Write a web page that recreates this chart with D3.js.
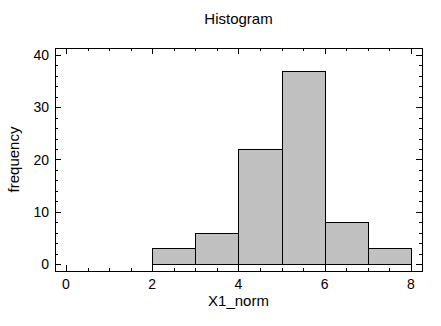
<!DOCTYPE html>
<html>
<head>
<meta charset="utf-8">
<script src="https://cdn.jsdelivr.net/npm/d3@7"></script>
<style>
body { margin: 0; background: #fff; }
text { font-family: "Liberation Sans", Arial, sans-serif; fill: #000; }
</style>
</head>
<body>
<div id="chart"></div>
<script>
// bin edges and counts
var binStarts = [0, 1, 2, 3, 4, 5, 6, 7];
var binEnds = [1, 2, 3, 4, 5, 6, 7, 8];
var counts = [0, 0, 3, 6, 22, 37, 8, 3];
var xTicks = [0, 2, 4, 6, 8];
var yTicks = [0, 10, 20, 30, 40];
var mainTitle = "Histogram";
var xTitle = "X1_norm";
var yTitle = "frequency";

var w = 441, h = 326;
var margin = {left: 55, right: 19, top: 48, bottom: 55};

var x = d3.scaleLinear().domain([-0.255, 8.255]).range([margin.left, w - margin.right]);
var y = d3.scaleLinear().domain([-1.3, 41.3]).range([h - margin.bottom, margin.top]);

var svg = d3.select("#chart").append("svg")
	.attr("width", w)
	.attr("height", h);

var values = [];
for (var i = 0; i < counts.length; i++) {
	values.push({"count": counts[i], "breakStart": binStarts[i], "breakEnd": binEnds[i]});
}

svg.selectAll(".bar")
	.data(values)
	.enter()
	.append("rect")
	.attr("class", "bar")
	.attr("x", function(d) { return Math.round(x(d.breakStart)) + 0.5; })
	.attr("y", function(d) { return Math.round(y(d.count)) + 0.5; })
	.attr("width", function(d) { return Math.round(x(d.breakEnd)) - Math.round(x(d.breakStart)); })
	.attr("height", function(d) { return Math.round(y(0)) - Math.round(y(d.count)); })
	.attr("fill", "#c0c0c0")
	.attr("stroke", "#000")
	.attr("stroke-width", 1);

// inner ticks on all four sides
var xMinor = d3.range(0, 8.01, 0.5);
var yMinor = d3.range(0, 40.01, 2);

function isMajor(v, list) { return list.indexOf(v) >= 0; }

var x0 = margin.left, x1 = w - margin.right;
var y0 = h - margin.bottom, y1 = margin.top;

var ticks = svg.append("g").attr("stroke", "#000").attr("stroke-width", 1);
xMinor.forEach(function(v) {
	var px = Math.round(x(v)) + 0.5;
	var len = isMajor(v, xTicks) ? 6 : 3;
	ticks.append("line").attr("x1", px).attr("x2", px).attr("y1", y0).attr("y2", y0 - len);
	ticks.append("line").attr("x1", px).attr("x2", px).attr("y1", y1).attr("y2", y1 + len);
});
yMinor.forEach(function(v) {
	var py = Math.round(y(v)) + 0.5;
	var len = isMajor(v, yTicks) ? 6 : 3;
	ticks.append("line").attr("x1", x0).attr("x2", x0 + len).attr("y1", py).attr("y2", py);
	ticks.append("line").attr("x1", x1).attr("x2", x1 - len).attr("y1", py).attr("y2", py);
});

svg.append("rect")
	.attr("x", x0 + 0.5).attr("y", y1 + 0.5)
	.attr("width", x1 - x0).attr("height", y0 - y1)
	.attr("fill", "none").attr("stroke", "#000").attr("stroke-width", 1);

svg.selectAll(".xlab")
	.data(xTicks)
	.enter()
	.append("text")
	.attr("x", function(d) { return x(d); })
	.attr("y", y0 + 18)
	.attr("text-anchor", "middle")
	.style("font-size", "14px")
	.text(function(d) { return d; });

svg.selectAll(".ylab")
	.data(yTicks)
	.enter()
	.append("text")
	.attr("x", x0 - 6)
	.attr("y", function(d) { return y(d) + 5; })
	.attr("text-anchor", "end")
	.style("font-size", "14px")
	.text(function(d) { return d; });

svg.append("text")
	.attr("x", (x0 + x1) / 2)
	.attr("y", 24)
	.attr("text-anchor", "middle")
	.style("font-size", "15px")
	.text(mainTitle);

svg.append("text")
	.attr("x", (x0 + x1) / 2)
	.attr("y", 306)
	.attr("text-anchor", "middle")
	.style("font-size", "15px")
	.text(xTitle);

svg.append("text")
	.attr("transform", "translate(19," + ((y0 + y1) / 2) + ") rotate(-90)")
	.attr("text-anchor", "middle")
	.style("font-size", "15px")
	.text(yTitle);
</script>
</body>
</html>
